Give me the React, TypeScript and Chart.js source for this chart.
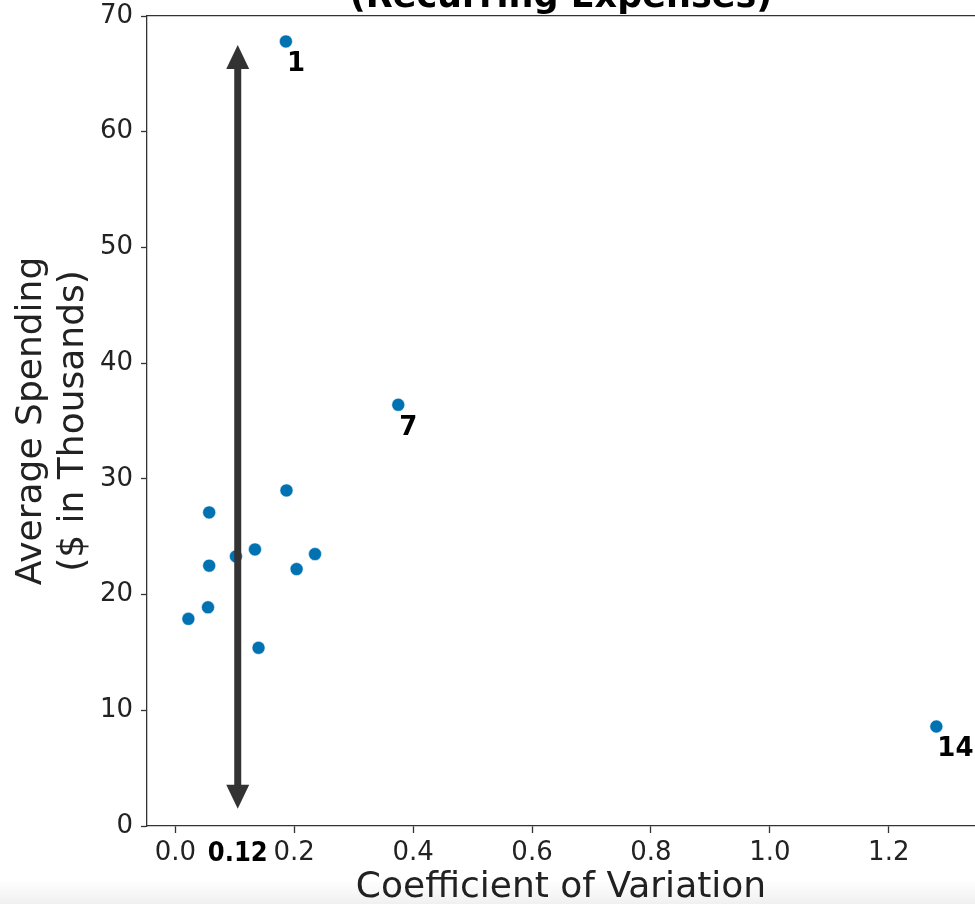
import { useEffect, useRef } from 'react'
import { Chart, registerables } from 'chart.js'

Chart.register(...registerables)

// coefficient of variation vs average spending, one entry per account
const coefVariation = [0.186, 0.375, 1.28, 0.057, 0.187, 0.134, 0.102, 0.235, 0.057, 0.204, 0.055, 0.022, 0.14]
const avgSpending = [67.8, 36.4, 8.6, 27.1, 29.0, 23.9, 23.3, 23.5, 22.5, 22.2, 18.9, 17.9, 15.4]
const pointLabels = ['1', '7', '14', '', '', '', '', '', '', '', '', '', '']

const xTickValues = [0, 0.2, 0.4, 0.6, 0.8, 1.0, 1.2]
const yTickValues = [0, 10, 20, 30, 40, 50, 60, 70]

// threshold marker (arrow + bold tick)
const markerX = 0.105
const markerLabel = '0.12'
const arrowFrom = 1.5
const arrowTo = 67.5

const titleText = '(Recurring Expenses)'

const FONT = 'DejaVu Sans'
const INK = '#222'
const SPINE = '#333'

const overlayPlugin = {
  id: 'overlay',
  afterDatasetsDraw(chart: any) {
    const { ctx, scales } = chart
    const x = scales.x
    const y = scales.y
    ctx.save()

    // double-headed arrow
    const ax = x.getPixelForValue(markerX)
    const top = y.getPixelForValue(arrowTo)
    const bot = y.getPixelForValue(arrowFrom)
    const head = 24
    const half = 11.5
    ctx.strokeStyle = '#333'
    ctx.fillStyle = '#333'
    ctx.lineWidth = 7
    ctx.beginPath()
    ctx.moveTo(ax, top + head - 4)
    ctx.lineTo(ax, bot - head + 4)
    ctx.stroke()
    ctx.beginPath()
    ctx.moveTo(ax, top)
    ctx.lineTo(ax + half, top + head)
    ctx.lineTo(ax - half, top + head)
    ctx.closePath()
    ctx.fill()
    ctx.beginPath()
    ctx.moveTo(ax, bot)
    ctx.lineTo(ax + half, bot - head)
    ctx.lineTo(ax - half, bot - head)
    ctx.closePath()
    ctx.fill()

    // point annotations
    ctx.font = `bold 26px "${FONT}"`
    ctx.fillStyle = '#000'
    ctx.textAlign = 'left'
    ctx.textBaseline = 'alphabetic'
    pointLabels.forEach((t, i) => {
      if (!t) return
      const px = x.getPixelForValue(coefVariation[i])
      const py = y.getPixelForValue(avgSpending[i])
      ctx.fillText(t, px + 1, py + 30)
    })
    ctx.restore()
  },
  afterDraw(chart: any) {
    const { ctx, chartArea } = chart
    ctx.save()
    ctx.font = `bold 35px "${FONT}"`
    ctx.fillStyle = '#000'
    ctx.textAlign = 'center'
    ctx.textBaseline = 'alphabetic'
    ctx.fillText(titleText, (chartArea.left + chartArea.right) / 2, 7)
    ctx.restore()
  },
}

const noPad = (s: any) => {
  s.paddingLeft = 0
  s.paddingRight = 0
  s.paddingTop = 0
  s.paddingBottom = 0
}

export default function App() {
  const canvasRef = useRef<HTMLCanvasElement>(null)

  useEffect(() => {
    if (!canvasRef.current) return
    Chart.defaults.font.family = FONT

    const xMin = -0.0476
    const xMax = 1.345

    const chart = new Chart(canvasRef.current, {
      type: 'scatter',
      data: {
        datasets: [
          {
            data: coefVariation.map((v, i) => ({ x: v, y: avgSpending[i] })),
            backgroundColor: '#0072b2',
            borderColor: '#ffffff',
            borderWidth: 0.5,
            pointRadius: 6.5,
          },
        ],
      },
      options: {
        animation: false,
        responsive: true,
        maintainAspectRatio: false,
        layout: { autoPadding: false, padding: { top: 16, right: 0, bottom: 0, left: 0 } },
        plugins: {
          legend: { display: false },
          tooltip: { enabled: false },
        },
        scales: {
          x: {
            type: 'linear',
            position: 'bottom',
            min: xMin,
            max: xMax,
            afterBuildTicks: (s: any) => {
              s.ticks = [...xTickValues, markerX].sort((a, b) => a - b).map((v) => ({ value: v }))
            },
            afterFit: (s: any) => {
              s.height = 78
              noPad(s)
            },
            grid: {
              drawOnChartArea: false,
              tickLength: 7,
              tickWidth: 1.3,
              tickColor: (c: any) => (c.tick && c.tick.value === markerX ? 'rgba(0,0,0,0)' : SPINE),
            },
            border: { display: true, color: SPINE, width: 1.3 },
            ticks: {
              autoSkip: false,
              maxRotation: 0,
              minRotation: 0,
              padding: 5,
              color: (c: any) => (c.tick && c.tick.value === markerX ? '#000' : INK),
              font: (c: any) =>
                c.tick && c.tick.value === markerX
                  ? { family: 'DejaVu Sans Condensed', weight: 'bold', size: 27, lineHeight: 1.2 }
                  : { family: FONT, size: 26, lineHeight: 1.2 },
              callback: (v: any) => (v === markerX ? markerLabel : Number(v).toFixed(1)),
            },
            title: {
              display: true,
              text: 'Coefficient of Variation',
              color: INK,
              font: { family: FONT, size: 36, lineHeight: 1 },
              padding: { top: 0, bottom: -2 },
            },
          },
          xTop: {
            type: 'linear',
            position: 'top',
            min: xMin,
            max: xMax,
            grid: { display: false },
            ticks: { display: false },
            border: { display: true, color: SPINE, width: 1.3 },
            afterFit: (s: any) => {
              s.height = 0
              noPad(s)
            },
          },
          y: {
            type: 'linear',
            min: 0,
            max: 70,
            afterBuildTicks: (s: any) => {
              s.ticks = yTickValues.map((v) => ({ value: v }))
            },
            afterFit: (s: any) => {
              s.width = 147
              noPad(s)
            },
            grid: { drawOnChartArea: false, tickLength: 6, tickWidth: 1.3, tickColor: SPINE },
            border: { display: true, color: SPINE, width: 1.3 },
            ticks: {
              autoSkip: false,
              padding: 8,
              color: INK,
              font: { family: FONT, size: 26 },
            },
            title: {
              display: true,
              text: ['Average Spending', '($ in Thousands)'],
              color: INK,
              font: { family: FONT, size: 36, lineHeight: 1.18 },
              padding: { top: 10, bottom: 0 },
            },
          },
        },
      },
      plugins: [overlayPlugin],
    })

    return () => {
      chart.destroy()
    }
  }, [])

  return (
    <div style={{ position: 'relative', width: 975, height: 904, background: '#fff', overflow: 'hidden' }}>
      <style>{'body{margin:0;overflow:hidden}'}</style>
      <canvas ref={canvasRef} style={{ display: 'block' }} />
      <div
        style={{
          position: 'absolute',
          left: 0,
          right: 0,
          bottom: 0,
          height: 24,
          pointerEvents: 'none',
          background: 'linear-gradient(to bottom, rgba(0,0,0,0), rgba(0,0,0,0.06))',
        }}
      />
    </div>
  )
}
